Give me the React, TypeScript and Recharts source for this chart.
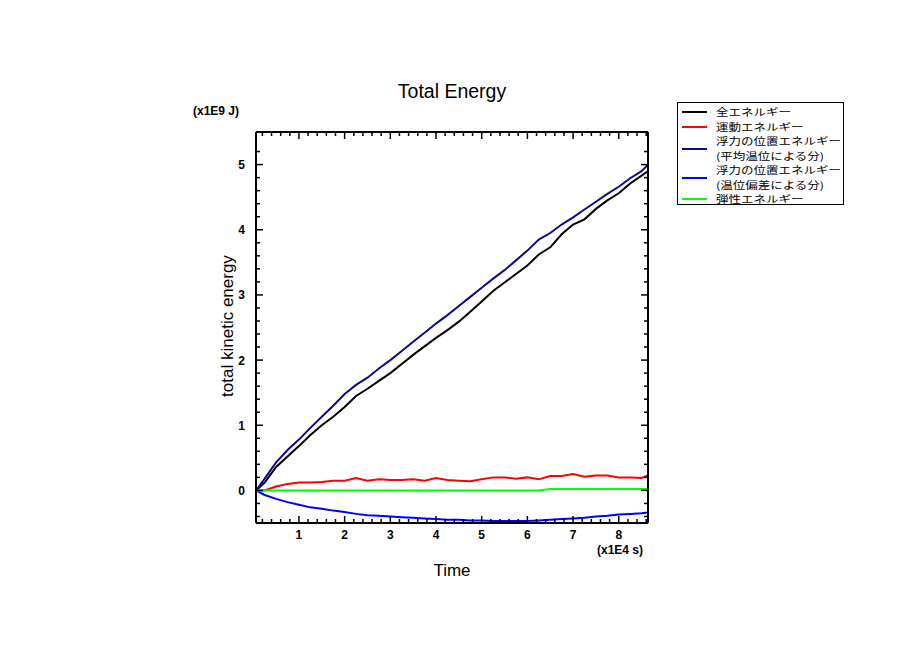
import React from 'react';
import { LineChart, Line, XAxis, YAxis } from 'recharts';

// time in units of 1E4 s
const times = [
  0.06, 0.25, 0.5, 0.75, 1.0, 1.25, 1.5, 1.75, 2.0, 2.25, 2.5, 2.75, 3.0, 3.25, 3.5, 3.75, 4.0, 4.25,
  4.5, 4.75, 5.0, 5.25, 5.5, 5.75, 6.0, 6.25, 6.5, 6.75, 7.0, 7.25, 7.5, 7.75, 8.0, 8.25, 8.5, 8.64,
];

// energies in units of 1E9 J
const totalEnergy = [
  0, 0.12, 0.36, 0.52, 0.68, 0.85, 1.0, 1.13, 1.28, 1.45, 1.56, 1.68, 1.8, 1.94, 2.08, 2.21, 2.34, 2.46,
  2.59, 2.74, 2.9, 3.06, 3.19, 3.32, 3.45, 3.62, 3.73, 3.93, 4.08, 4.16, 4.32, 4.45, 4.56, 4.71, 4.83, 4.9,
];
const kineticEnergy = [
  0, 0, 0.06, 0.1, 0.12, 0.12, 0.13, 0.15, 0.15, 0.19, 0.15, 0.17, 0.16, 0.16, 0.17, 0.15, 0.19, 0.16,
  0.15, 0.14, 0.17, 0.2, 0.2, 0.18, 0.2, 0.17, 0.22, 0.22, 0.25, 0.21, 0.23, 0.23, 0.2, 0.2, 0.19, 0.23,
];
const meanPotential = [
  0, 0.18, 0.43, 0.62, 0.78, 0.96, 1.13, 1.3, 1.48, 1.62, 1.73, 1.87, 2.0, 2.14, 2.28, 2.42, 2.56, 2.69,
  2.83, 2.97, 3.11, 3.25, 3.38, 3.53, 3.68, 3.85, 3.95, 4.08, 4.19, 4.31, 4.43, 4.55, 4.66, 4.79, 4.9, 5.0,
];
const anomalyPotential = [
  0, -0.07, -0.13, -0.18, -0.22, -0.26, -0.28, -0.31, -0.33, -0.36, -0.38, -0.39, -0.4, -0.41, -0.42, -0.43, -0.44, -0.45,
  -0.45, -0.46, -0.46, -0.47, -0.47, -0.47, -0.47, -0.46, -0.45, -0.44, -0.43, -0.42, -0.4, -0.39, -0.37, -0.36, -0.35, -0.34,
];
const elasticEnergy = [
  0, 0, 0, 0, 0, 0, 0, 0, 0, 0, 0, 0, 0, 0, 0, 0, 0, 0,
  0, 0, 0, 0, 0, 0, 0, 0, 0.02, 0.02, 0.02, 0.02, 0.02, 0.02, 0.02, 0.02, 0.02, 0.02,
];

const xMajor = [1, 2, 3, 4, 5, 6, 7, 8];
const yMajor = [0, 1, 2, 3, 4, 5];
const xTicks = Array.from({ length: 43 }, (_, i) => Math.round((i + 1) * 2) / 10);
const yTicks = Array.from({ length: 29 }, (_, i) => Math.round(i * 2 - 4) / 10);

const series = [
  { key: 'total', name: ['全エネルギー'], color: '#000000', values: totalEnergy },
  { key: 'kinetic', name: ['運動エネルギー'], color: '#ff0000', values: kineticEnergy },
  { key: 'mean', name: ['浮力の位置エネルギー', '(平均温位による分)'], color: '#0a0a8c', values: meanPotential },
  { key: 'anomaly', name: ['浮力の位置エネルギー', '(温位偏差による分)'], color: '#0000ff', values: anomalyPotential },
  { key: 'elastic', name: ['弾性エネルギー'], color: '#00ff00', values: elasticEnergy },
];

const data = times.map((t, i) => {
  const row: Record<string, number> = { t };
  series.forEach((s) => (row[s.key] = s.values[i]));
  return row;
});

const labelFont = { fontFamily: 'Liberation Sans, Arial, sans-serif', fontSize: 12, fontWeight: 'bold' as const };

const isMajor = (v: number, list: number[]) => list.some((m) => Math.abs(m - v) < 1e-6);

const LeftTick = (props: any) => {
  const { x, y, payload } = props;
  const major = isMajor(payload.value, yMajor);
  return (
    <g>
      <line x1={x} x2={x + (major ? 7 : 4)} y1={y} y2={y} stroke="#000" strokeWidth={1.5} />
      {major && (
        <text x={x - 11} y={y + 4.5} textAnchor="end" fill="#000" style={labelFont}>
          {payload.value}
        </text>
      )}
    </g>
  );
};

const RightTick = (props: any) => {
  const { x, y, payload } = props;
  const major = isMajor(payload.value, yMajor);
  return <line x1={x} x2={x - (major ? 7 : 4)} y1={y} y2={y} stroke="#000" strokeWidth={1.5} />;
};

const BottomTick = (props: any) => {
  const { x, y, payload } = props;
  const major = isMajor(payload.value, xMajor);
  return (
    <g>
      <line x1={x} x2={x} y1={y} y2={y - (major ? 7 : 4)} stroke="#000" strokeWidth={1.5} />
      {major && (
        <text x={x} y={y + 15.5} textAnchor="middle" fill="#000" style={labelFont}>
          {payload.value}
        </text>
      )}
    </g>
  );
};

const TopTick = (props: any) => {
  const { x, y, payload } = props;
  const major = isMajor(payload.value, xMajor);
  return <line x1={x} x2={x} y1={y} y2={y + (major ? 7 : 4)} stroke="#000" strokeWidth={1.5} />;
};

const textBase: React.CSSProperties = {
  position: 'absolute',
  fontFamily: 'Liberation Sans, Arial, sans-serif',
  color: '#000',
  whiteSpace: 'nowrap',
};

// the original legend font is flat, so squeeze the CJK glyphs a little vertically
const Legend = () => (
  <div
    style={{
      position: 'absolute',
      left: 677,
      top: 102,
      width: 167,
      height: 103,
      border: '1px solid #000',
      background: '#fff',
      fontFamily: '"Noto Sans CJK JP", sans-serif',
      fontSize: 12.5,
      paddingTop: 2,
      boxSizing: 'border-box',
    }}
  >
    {series.map((s) => (
      <div key={s.key} style={{ display: 'flex', alignItems: 'center' }}>
        <div style={{ width: 25, height: 2, background: s.color, marginLeft: 4, marginRight: 9 }} />
        <div>
          {s.name.map((line) => (
            <div key={line} style={{ height: 14.5, lineHeight: '14.5px', whiteSpace: 'nowrap' }}>
              <span style={{ display: 'inline-block', transform: 'scaleY(0.78)', transformOrigin: '50% 50%' }}>
                {line}
              </span>
            </div>
          ))}
        </div>
      </div>
    ))}
  </div>
);

const App = () => {
  return (
    <div style={{ position: 'absolute', left: 0, top: 0, width: 904, height: 654, background: '#fff' }}>
      <LineChart
        width={904}
        height={654}
        data={data}
        margin={{ top: 122, right: 246, bottom: 101, left: 216 }}
      >
        <XAxis
          xAxisId="b"
          dataKey="t"
          type="number"
          domain={[0.06, 8.64]}
          allowDataOverflow
          ticks={xTicks}
          interval={0}
          height={30}
          tickSize={0}
          tickMargin={0}
          tickLine={false}
          axisLine={{ stroke: '#000', strokeWidth: 2 }}
          tick={<BottomTick />}
        />
        <XAxis
          xAxisId="t"
          dataKey="t"
          orientation="top"
          type="number"
          domain={[0.06, 8.64]}
          allowDataOverflow
          ticks={xTicks}
          interval={0}
          height={10}
          tickSize={0}
          tickMargin={0}
          tickLine={false}
          axisLine={{ stroke: '#000', strokeWidth: 2 }}
          tick={<TopTick />}
        />
        <YAxis
          yAxisId="l"
          type="number"
          domain={[-0.5, 5.5]}
          allowDataOverflow
          ticks={yTicks}
          interval={0}
          width={40}
          tickSize={0}
          tickMargin={0}
          tickLine={false}
          axisLine={{ stroke: '#000', strokeWidth: 2 }}
          tick={<LeftTick />}
        />
        <YAxis
          yAxisId="r"
          orientation="right"
          type="number"
          domain={[-0.5, 5.5]}
          allowDataOverflow
          ticks={yTicks}
          interval={0}
          width={10}
          tickSize={0}
          tickMargin={0}
          tickLine={false}
          axisLine={{ stroke: '#000', strokeWidth: 2 }}
          tick={<RightTick />}
        />
        {series.map((s) => (
          <Line
            key={s.key}
            xAxisId="b"
            yAxisId="l"
            dataKey={s.key}
            name={s.name.join(' ')}
            type="linear"
            stroke={s.color}
            strokeWidth={2}
            dot={false}
            isAnimationActive={false}
          />
        ))}
      </LineChart>
      <div style={{ ...textBase, left: 352, width: 200, top: 80, textAlign: 'center', fontSize: 19.5 }}>Total Energy</div>
      <div style={{ ...textBase, left: 193, top: 104, fontSize: 12, fontWeight: 'bold' }}>(x1E9 J)</div>
      <div style={{ ...textBase, left: 597, top: 543, fontSize: 12, fontWeight: 'bold' }}>(x1E4 s)</div>
      <div style={{ ...textBase, left: 402, width: 100, top: 561, textAlign: 'center', fontSize: 17 }}>Time</div>
      <div
        style={{
          ...textBase,
          left: 128,
          width: 200,
          top: 316,
          textAlign: 'center',
          fontSize: 17,
          transform: 'rotate(-90deg)',
        }}
      >
        total kinetic energy
      </div>
      <Legend />
    </div>
  );
};

export default App;
